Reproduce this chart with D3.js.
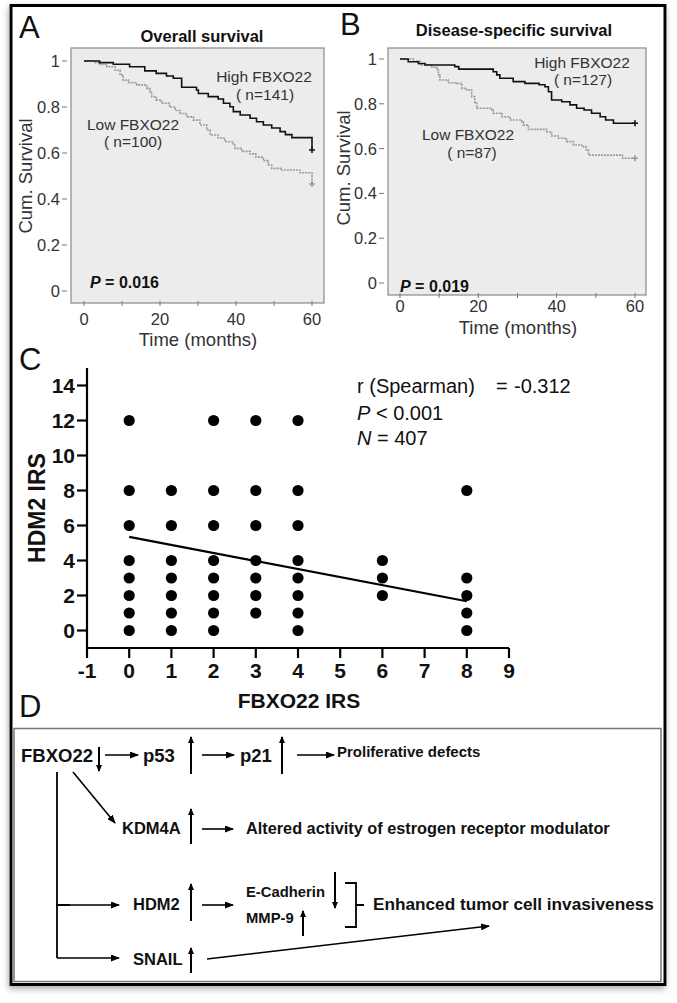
<!DOCTYPE html>
<html><head><meta charset="utf-8">
<script src="https://cdn.jsdelivr.net/npm/d3@7"></script>
<style>body{margin:0;background:#fff}svg{display:block}text{font-family:"Liberation Sans",Arial,Helvetica,sans-serif}</style>
</head><body><svg id="c" width="677" height="1003"></svg>
<script>
// ---------- data ----------
const kmTicksY = [0, 0.2, 0.4, 0.6, 0.8, 1];
const kmTickLabelsY = ["0", "0.2", "0.4", "0.6", "0.8", "1"];
const kmTicksX = [0, 20, 40, 60];
const kmMinorX = [0, 10, 20, 30, 40, 50, 60];
const osHigh = [[0,1],[4.1,0.993],[7.7,0.986],[12,0.975],[16,0.957],[19,0.946],[21.7,0.935],[23.5,0.925],[25.7,0.886],[29.6,0.874],[30.1,0.859],[32.7,0.845],[35.3,0.835],[36.7,0.816],[38.4,0.801],[39.3,0.78],[41.1,0.765],[43.7,0.751],[45.4,0.736],[47.2,0.722],[49.4,0.709],[51.6,0.693],[53,0.68],[54.7,0.667],[60,0.613]];
const osLow = [[0,1],[3,0.993],[4.2,0.985],[6,0.975],[8.2,0.96],[9.5,0.939],[10.3,0.917],[11.7,0.906],[13.9,0.896],[16.5,0.881],[17.3,0.867],[17.8,0.845],[19,0.83],[20.4,0.816],[22.5,0.8],[24,0.785],[25.3,0.772],[27,0.757],[28.8,0.743],[30.5,0.722],[32.3,0.7],[33.2,0.678],[35.3,0.665],[37.1,0.649],[39.3,0.635],[39.7,0.62],[41.5,0.607],[43.7,0.596],[45.2,0.582],[47.2,0.567],[48.5,0.548],[49.4,0.533],[52,0.526],[56.8,0.514],[60,0.465]];
const dssHigh = [[0,1],[2.1,0.988],[4.7,0.98],[6.4,0.973],[14,0.966],[15,0.955],[23.8,0.943],[24.7,0.929],[25.5,0.914],[28.9,0.899],[31.9,0.891],[35.5,0.885],[37,0.876],[37.9,0.854],[38.7,0.817],[41.3,0.809],[43.4,0.795],[45.1,0.78],[47,0.772],[48.9,0.758],[51.1,0.742],[52.5,0.728],[54.5,0.713],[60,0.713]];
const dssLow = [[0,1],[3.4,0.99],[5.1,0.973],[8.1,0.963],[9.4,0.951],[9.8,0.929],[10.2,0.906],[12.3,0.894],[14.5,0.891],[15.8,0.869],[17,0.862],[18.3,0.832],[19.1,0.802],[19.6,0.78],[23.4,0.772],[23.8,0.758],[26,0.742],[28.1,0.728],[31.1,0.72],[31.5,0.705],[32.8,0.686],[37.4,0.675],[38.7,0.656],[40.4,0.646],[42.5,0.631],[44.3,0.616],[46.4,0.609],[47.5,0.595],[48.1,0.571],[56.6,0.571],[56.8,0.557],[60,0.557]];

const scatterPoints = [
 [0,12],[0,8],[0,6],[0,4],[0,3],[0,2],[0,1],[0,0],
 [1,8],[1,6],[1,4],[1,3],[1,2],[1,1],[1,0],
 [2,12],[2,8],[2,6],[2,4],[2,3],[2,2],[2,1],[2,0],
 [3,12],[3,8],[3,6],[3,4],[3,3],[3,2],[3,1],
 [4,12],[4,8],[4,6],[4,4],[4,3],[4,2],[4,1],[4,0],
 [6,4],[6,3],[6,2],
 [8,8],[8,3],[8,2],[8,1],[8,0]];
const scatterTicksX = [-1,0,1,2,3,4,5,6,7,8,9];
const scatterTicksY = [0,2,4,6,8,10,12,14];
const regLine = [[0,5.35],[8,1.67]];

// ---------- drawing ----------
const svg = d3.select("#c");
const defs = svg.append("defs");
const f = defs.append("filter").attr("id","sh").attr("x","-5%").attr("y","-5%").attr("width","110%").attr("height","110%");
f.append("feDropShadow").attr("dx",-1).attr("dy",3).attr("stdDeviation",3).attr("flood-color","#888").attr("flood-opacity",0.7);
defs.append("marker").attr("id","ah").attr("markerUnits","userSpaceOnUse")
  .attr("markerWidth",9).attr("markerHeight",7).attr("refX",8).attr("refY",3.5).attr("orient","auto")
  .append("path").attr("d","M0,0 L9,3.5 L0,7 Z").attr("fill","#000");
defs.append("marker").attr("id","ahs").attr("markerUnits","userSpaceOnUse")
  .attr("markerWidth",7).attr("markerHeight",7).attr("refX",6).attr("refY",3.5).attr("orient","auto")
  .append("path").attr("d","M0,0.5 L7,3.5 L0,6.5 Z").attr("fill","#000");

svg.append("rect").attr("x",11).attr("y",5.5).attr("width",654).attr("height",979)
  .attr("fill","#fff").attr("stroke","#000").attr("stroke-width",3).attr("filter","url(#sh)");

function kmPanel(o) {
  const g = svg.append("g");
  const x = d3.scaleLinear().domain([0,60]).range(o.xr);
  const y = d3.scaleLinear().domain([0,1]).range(o.yr);
  g.append("rect").attr("x",o.box[0]).attr("y",o.box[1]).attr("width",o.box[2]-o.box[0]).attr("height",o.box[3]-o.box[1])
    .attr("fill","#ececec").attr("stroke","#8a8a8a").attr("stroke-width",1.2);
  kmTicksY.forEach((v,i)=>{
    g.append("line").attr("x1",o.box[0]-9).attr("x2",o.box[0]-4).attr("y1",y(v)).attr("y2",y(v)).attr("stroke","#777").attr("stroke-width",1);
    g.append("text").attr("x",o.box[0]-11).attr("y",y(v)).attr("dy","0.36em").attr("text-anchor","end")
      .attr("font-size",16.5).attr("fill","#333").text(kmTickLabelsY[i]);
  });
  kmMinorX.forEach(v=>{
    g.append("line").attr("x1",x(v)).attr("x2",x(v)).attr("y1",o.box[3]-2).attr("y2",o.box[3]+3).attr("stroke","#777").attr("stroke-width",1);
  });
  kmTicksX.forEach(v=>{
    g.append("text").attr("x",x(v)).attr("y",o.xtickY).attr("text-anchor","middle")
      .attr("font-size",16.5).attr("fill","#333").text(v);
  });
  const line = d3.line().x(d=>x(d[0])).y(d=>y(d[1])).curve(d3.curveStepAfter);
  g.append("path").attr("d",line(o.low)).attr("fill","none").attr("stroke","#9a9a9a").attr("stroke-width",1.6).attr("stroke-dasharray","2,1");
  g.append("path").attr("d",line(o.high)).attr("fill","none").attr("stroke","#111").attr("stroke-width",1.6);
  [[o.high,"#111"],[o.low,"#999"]].forEach(([s,c])=>{
    const e = s[s.length-1];
    g.append("path").attr("d",`M${x(e[0])-3},${y(e[1])}h6M${x(e[0])},${y(e[1])-3}v6`).attr("stroke",c).attr("stroke-width",1.6);
  });
  g.append("text").attr("x",o.title[0]).attr("y",o.title[1]).attr("text-anchor","middle").attr("font-size",16.5).attr("font-weight","bold").attr("fill","#111").text(o.titleText);
  g.append("text").attr("transform",`translate(${o.ylab[0]},${o.ylab[1]}) rotate(-90)`).attr("text-anchor","middle").attr("font-size",18.5).attr("fill","#333").text("Cum. Survival");
  g.append("text").attr("x",o.xlab[0]).attr("y",o.xlab[1]).attr("text-anchor","middle").attr("font-size",18.5).attr("fill","#333").text("Time (months)");
  o.labels.forEach(l=>{
    g.append("text").attr("x",l[0]).attr("y",l[1]).attr("text-anchor","middle").attr("font-size",15.5).attr("fill","#333").text(l[2]);
  });
  const p = g.append("text").attr("x",o.p[0]).attr("y",o.p[1]).attr("font-size",16).attr("font-weight","bold").attr("fill","#111");
  p.append("tspan").attr("font-style","italic").text("P");
  p.append("tspan").text(" = " + o.p[2]);
  g.append("text").attr("x",o.letter[0]).attr("y",o.letter[1]).attr("font-size",31).attr("fill","#111").text(o.letter[2]);
}

kmPanel({xr:[84,312], yr:[291,61], box:[71,48,324,303], high:osHigh, low:osLow, xtickY:325,
  titleText:"Overall survival", title:[202,42], ylab:[32,176], xlab:[198,346],
  labels:[[264,82,"High FBXO22"],[265,100,"( n=141)"],[133,130,"Low FBXO22"],[133,147,"( n=100)"]],
  p:[90,288,"0.016"], letter:[19,38,"A"]});
kmPanel({xr:[400,635], yr:[283,59], box:[388,48,646,295], high:dssHigh, low:dssLow, xtickY:312,
  titleText:"Disease-specific survival", title:[514,36], ylab:[350,168], xlab:[518,334],
  labels:[[582,68,"High FBXO22"],[583,85,"( n=127)"],[468,140,"Low FBXO22"],[472,158,"( n=87)"]],
  p:[400,292,"0.019"], letter:[340,35,"B"]});

// ---------- panel C ----------
(function(){
  const g = svg.append("g");
  const x = d3.scaleLinear().domain([-1,9]).range([87,509]);
  const y = d3.scaleLinear().domain([-1,15]).range([648,368]);
  g.append("text").attr("x",19).attr("y",370).attr("font-size",31).attr("fill","#111").text("C");
  g.append("line").attr("x1",x(-1)).attr("x2",x(-1)).attr("y1",y(15)).attr("y2",y(-1)).attr("stroke","#000").attr("stroke-width",2.2);
  g.append("line").attr("x1",x(-1)).attr("x2",x(9)).attr("y1",y(-1)).attr("y2",y(-1)).attr("stroke","#000").attr("stroke-width",2.2);
  scatterTicksY.forEach(v=>{
    g.append("line").attr("x1",x(-1)-10).attr("x2",x(-1)).attr("y1",y(v)).attr("y2",y(v)).attr("stroke","#000").attr("stroke-width",2.2);
    g.append("text").attr("x",x(-1)-12).attr("y",y(v)).attr("dy","0.36em").attr("text-anchor","end").attr("font-size",21).attr("font-weight","bold").attr("fill","#111").text(v);
  });
  scatterTicksX.forEach(v=>{
    g.append("line").attr("x1",x(v)).attr("x2",x(v)).attr("y1",y(-1)).attr("y2",y(-1)+10).attr("stroke","#000").attr("stroke-width",2.2);
    g.append("text").attr("x",x(v)).attr("y",678).attr("text-anchor","middle").attr("font-size",21).attr("font-weight","bold").attr("fill","#111").text(v);
  });
  g.selectAll("circle.pt").data(scatterPoints).enter().append("circle").attr("class","pt")
    .attr("cx",d=>x(d[0])).attr("cy",d=>y(d[1])).attr("r",5.6).attr("fill","#000");
  g.append("line").attr("x1",x(regLine[0][0])).attr("y1",y(regLine[0][1])).attr("x2",x(regLine[1][0])).attr("y2",y(regLine[1][1]))
    .attr("stroke","#000").attr("stroke-width",2.2);
  g.append("text").attr("transform","translate(45,508) rotate(-90)").attr("text-anchor","middle").attr("font-size",23).attr("font-weight","bold").attr("fill","#111").text("HDM2 IRS");
  g.append("text").attr("x",299).attr("y",708).attr("text-anchor","middle").attr("font-size",21).attr("font-weight","bold").attr("fill","#111").text("FBXO22 IRS");
  const t1 = g.append("text").attr("x",357).attr("y",393).attr("font-size",20).attr("fill","#111");
  t1.append("tspan").text("r (Spearman)");
  t1.append("tspan").attr("x",496).text("=");
  t1.append("tspan").attr("x",514).text("-0.312");
  const t2 = g.append("text").attr("x",357).attr("y",420).attr("font-size",20).attr("fill","#111");
  t2.append("tspan").attr("font-style","italic").text("P");
  t2.append("tspan").text(" < 0.001");
  const t3 = g.append("text").attr("x",357).attr("y",445).attr("font-size",20).attr("fill","#111");
  t3.append("tspan").attr("font-style","italic").text("N");
  t3.append("tspan").text(" =  407");
})();

// ---------- panel D ----------
(function(){
  const g = svg.append("g");
  g.append("text").attr("x",19).attr("y",717).attr("font-size",31).attr("fill","#111").text("D");
  g.append("rect").attr("x",14).attr("y",728.5).attr("width",647).attr("height",253).attr("fill","none").attr("stroke","#777").attr("stroke-width",1.5);
  const T = (x,y,s,t,fs)=>g.append("text").attr("x",x).attr("y",y).attr("font-size",fs).attr("font-weight","bold").attr("fill","#111").text(t);
  const A = (x1,y1,x2,y2,w,m)=>g.append("line").attr("x1",x1).attr("y1",y1).attr("x2",x2).attr("y2",y2).attr("stroke","#000").attr("stroke-width",w||1.6).attr("marker-end",`url(#${m||"ah"})`);
  const L = (x1,y1,x2,y2,w)=>g.append("line").attr("x1",x1).attr("y1",y1).attr("x2",x2).attr("y2",y2).attr("stroke","#000").attr("stroke-width",w||1.8);
  T(21,762,0,"FBXO22",18.5);
  A(99,747,99,771,2,"ahs");
  A(105,755,138,755);
  T(143,762,0,"p53",18.5);
  A(191,774,191,737,2,"ahs");
  A(202,755,234,755);
  T(240,762,0,"p21",18.5);
  A(282,774,282,737,2,"ahs");
  A(297,755,334,755);
  T(337,757,0,"Proliferative defects",15);
  L(57,772,57,958);
  A(73,772,115,823);
  T(122,834,0,"KDM4A",16.5);
  A(191,844,191,809,2,"ahs");
  A(202,829,233,829);
  T(246,834,0,"Altered activity of estrogen receptor modulator",16.3);
  L(56,905,70,905); A(57,905,119,905);
  T(133,910,0,"HDM2",16.5);
  A(191,921,191,884,2,"ahs");
  A(202,905,233,905);
  T(246,897,0,"E-Cadherin",14.8);
  T(246,923,0,"MMP-9",14.8);
  A(335,872,335,908,2,"ahs");
  A(303,936,303,911,2,"ahs");
  g.append("path").attr("d","M345,883 H356 V927 H345 M356,905 H364").attr("fill","none").attr("stroke","#000").attr("stroke-width",1.8);
  T(373,910,0,"Enhanced tumor cell invasiveness",17.2);
  A(57,958,119,958);
  T(133,965,0,"SNAIL",16.5);
  A(191,973,191,948,2,"ahs");
  A(207,959,489,926);
})();
</script></body></html>
